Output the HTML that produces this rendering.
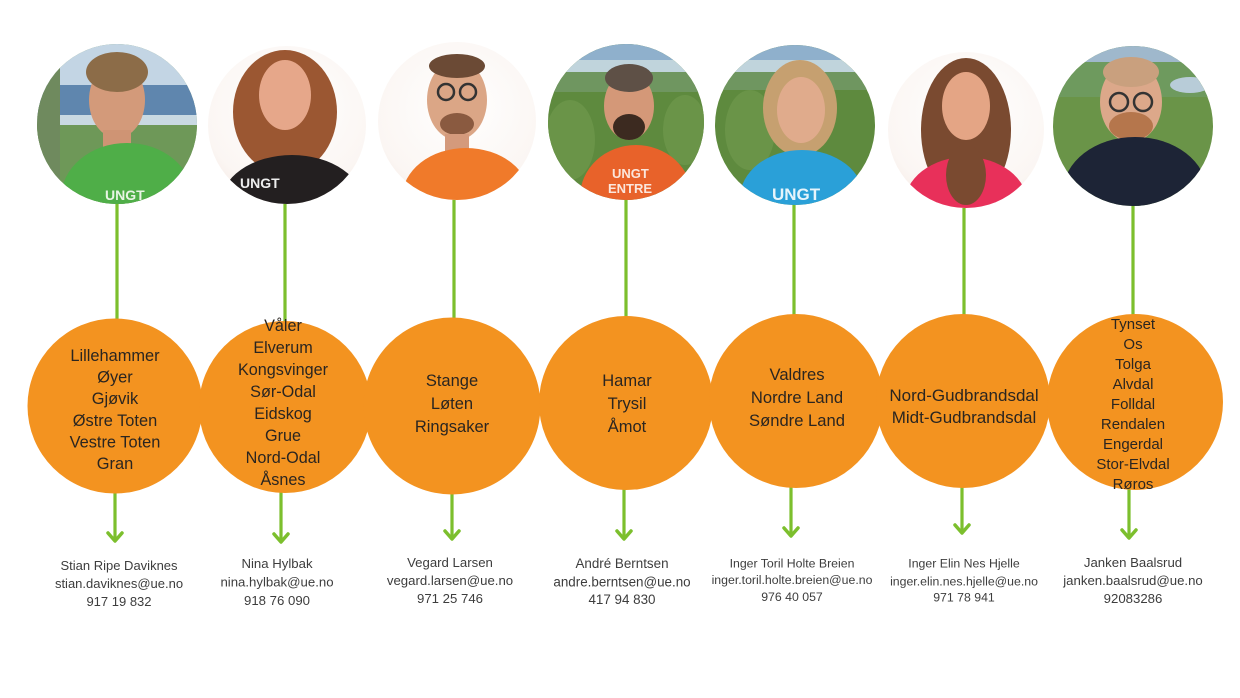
<!DOCTYPE html>
<html><head><meta charset="utf-8"><style>
html,body{margin:0;padding:0;background:#fff;}
svg{display:block;}
.o{font-family:"Liberation Sans",Arial,sans-serif;fill:#2a2520;text-anchor:middle;}
.n{font-family:"Liberation Sans",Arial,sans-serif;fill:#3d3d3d;text-anchor:middle;}
</style></head><body>
<svg width="1240" height="698" viewBox="0 0 1240 698" xmlns="http://www.w3.org/2000/svg">
<defs>
<clipPath id="c1"><circle cx="117" cy="124" r="80"/></clipPath>
<clipPath id="c2"><circle cx="287" cy="125" r="79"/></clipPath>
<clipPath id="c3"><circle cx="457" cy="121" r="79"/></clipPath>
<clipPath id="c4"><circle cx="626" cy="122" r="78"/></clipPath>
<clipPath id="c5"><circle cx="795" cy="125" r="80"/></clipPath>
<clipPath id="c6"><circle cx="966" cy="130" r="78"/></clipPath>
<clipPath id="c7"><circle cx="1133" cy="126" r="80"/></clipPath>
<radialGradient id="wbg" cx="0.5" cy="0.4" r="0.6"><stop offset="0" stop-color="#ffffff"/><stop offset="0.8" stop-color="#fbf6f3"/><stop offset="1" stop-color="#f6ece7"/></radialGradient>
</defs>

<!-- connector lines top -->
<g stroke="#7cbf2d" stroke-width="3.2" fill="none">
<line x1="117" y1="200" x2="117" y2="322"/>
<line x1="285" y1="200" x2="285" y2="325"/>
<line x1="454" y1="198" x2="454" y2="320"/>
<line x1="626" y1="198" x2="626" y2="318"/>
<line x1="794" y1="200" x2="794" y2="316"/>
<line x1="964" y1="205" x2="964" y2="316"/>
<line x1="1133" y1="203" x2="1133" y2="315"/>
<!-- down arrows -->
<line x1="115" y1="490" x2="115" y2="540"/>
<line x1="281" y1="490" x2="281" y2="541"/>
<line x1="452" y1="492" x2="452" y2="538"/>
<line x1="624" y1="488" x2="624" y2="538"/>
<line x1="791" y1="486" x2="791" y2="535"/>
<line x1="962" y1="486" x2="962" y2="532"/>
<line x1="1129" y1="488" x2="1129" y2="537"/>
</g>
<g stroke="#7cbf2d" stroke-width="3.5" fill="none" stroke-linecap="round" stroke-linejoin="round">
<polyline points="108,533 115,541 122,533"/>
<polyline points="274,534 281,542 288,534"/>
<polyline points="445,531 452,539 459,531"/>
<polyline points="617,531 624,539 631,531"/>
<polyline points="784,528 791,536 798,528"/>
<polyline points="955,525 962,533 969,525"/>
<polyline points="1122,530 1129,538 1136,530"/>
</g>

<!-- photo 1 -->
<g clip-path="url(#c1)">
<rect x="30" y="40" width="180" height="170" fill="#7d9f6a"/>
<rect x="30" y="40" width="180" height="45" fill="#c3d5e4"/>
<rect x="30" y="85" width="180" height="30" fill="#5f86ae"/>
<rect x="30" y="115" width="180" height="10" fill="#c9d9e2"/>
<rect x="30" y="125" width="180" height="90" fill="#6e9858"/>
<rect x="30" y="40" width="30" height="170" fill="#6f8a5e"/>
<ellipse cx="117" cy="100" rx="28" ry="38" fill="#d39a7a"/>
<ellipse cx="117" cy="72" rx="31" ry="20" fill="#8c6c48"/>
<rect x="103" y="130" width="28" height="20" fill="#cf9474"/>
<ellipse cx="127" cy="198" rx="66" ry="55" fill="#4fae48"/>
<text x="105" y="200" font-family="Liberation Sans,sans-serif" font-weight="bold" font-size="14" fill="#e8f4e4">UNGT</text>
</g>
<!-- photo 2 -->
<g clip-path="url(#c2)">
<rect x="200" y="40" width="180" height="170" fill="url(#wbg)"/>
<ellipse cx="285" cy="112" rx="52" ry="62" fill="#9b5732"/>
<ellipse cx="285" cy="95" rx="26" ry="35" fill="#e6a78a"/>
<ellipse cx="292" cy="205" rx="72" ry="50" fill="#231f20"/>
<text x="240" y="188" font-family="Liberation Sans,sans-serif" font-weight="bold" font-size="14" fill="#eee">UNGT</text>
</g>
<!-- photo 3 -->
<g clip-path="url(#c3)">
<rect x="370" y="40" width="180" height="170" fill="url(#wbg)"/>
<ellipse cx="457" cy="100" rx="30" ry="40" fill="#dba686"/>
<ellipse cx="457" cy="66" rx="28" ry="12" fill="#6b4a35"/>
<circle cx="446" cy="92" r="8" fill="none" stroke="#333" stroke-width="2.5"/>
<circle cx="468" cy="92" r="8" fill="none" stroke="#333" stroke-width="2.5"/>
<ellipse cx="457" cy="124" rx="17" ry="11" fill="#8a5a40"/>
<rect x="445" y="134" width="24" height="18" fill="#d49a7c"/>
<ellipse cx="466" cy="198" rx="64" ry="50" fill="#f07a2a"/>
</g>
<!-- photo 4 -->
<g clip-path="url(#c4)">
<rect x="540" y="40" width="180" height="170" fill="#5e8a3e"/>
<rect x="540" y="40" width="180" height="20" fill="#8fb0cc"/>
<rect x="540" y="60" width="180" height="12" fill="#c0d4dc"/>
<rect x="540" y="72" width="180" height="20" fill="#6f9660"/>
<ellipse cx="570" cy="140" rx="25" ry="40" fill="#6a9448"/>
<ellipse cx="685" cy="130" rx="22" ry="35" fill="#6a9448"/>
<ellipse cx="629" cy="106" rx="25" ry="34" fill="#d49878"/>
<ellipse cx="629" cy="78" rx="24" ry="14" fill="#5e5046"/>
<ellipse cx="629" cy="127" rx="16" ry="13" fill="#3c2a20"/>
<ellipse cx="636" cy="197" rx="56" ry="52" fill="#e8622a"/>
<text x="612" y="178" font-family="Liberation Sans,sans-serif" font-weight="bold" font-size="13" fill="#fbe6dc">UNGT</text>
<text x="608" y="193" font-family="Liberation Sans,sans-serif" font-weight="bold" font-size="13" fill="#fbe6dc">ENTRE</text>
</g>
<!-- photo 5 -->
<g clip-path="url(#c5)">
<rect x="710" y="40" width="180" height="170" fill="#5e8a3e"/>
<rect x="710" y="40" width="180" height="20" fill="#8fb0cc"/>
<rect x="710" y="60" width="180" height="12" fill="#c0d4dc"/>
<rect x="710" y="72" width="180" height="18" fill="#6f9660"/>
<ellipse cx="750" cy="130" rx="25" ry="40" fill="#6a9448"/>
<ellipse cx="800" cy="108" rx="37" ry="48" fill="#c6a070"/>
<ellipse cx="801" cy="110" rx="24" ry="33" fill="#e0ab8c"/>
<ellipse cx="802" cy="198" rx="62" ry="48" fill="#2aa0d8"/>
<text x="772" y="200" font-family="Liberation Sans,sans-serif" font-weight="bold" font-size="17" fill="#e6f4fb">UNGT</text>
</g>
<!-- photo 6 -->
<g clip-path="url(#c6)">
<rect x="880" y="45" width="180" height="170" fill="url(#wbg)"/>
<ellipse cx="966" cy="130" rx="45" ry="72" fill="#7a4a30"/>
<ellipse cx="966" cy="106" rx="24" ry="34" fill="#e4a585"/>
<ellipse cx="966" cy="205" rx="62" ry="48" fill="#e8305a"/>
<ellipse cx="966" cy="175" rx="20" ry="30" fill="#7a4a30"/>
</g>
<!-- photo 7 -->
<g clip-path="url(#c7)">
<rect x="1045" y="40" width="180" height="170" fill="#6a9448"/>
<rect x="1045" y="40" width="180" height="22" fill="#9fb8cc"/>
<rect x="1045" y="62" width="180" height="35" fill="#6e9a5e"/>
<ellipse cx="1190" cy="85" rx="20" ry="8" fill="#b8ccd8"/>
<ellipse cx="1131" cy="102" rx="31" ry="40" fill="#dca88a"/>
<ellipse cx="1131" cy="72" rx="28" ry="15" fill="#c9a07e"/>
<circle cx="1119" cy="102" r="9" fill="none" stroke="#333" stroke-width="2.5"/>
<circle cx="1143" cy="102" r="9" fill="none" stroke="#333" stroke-width="2.5"/>
<ellipse cx="1131" cy="126" rx="22" ry="14" fill="#b5764c"/>
<ellipse cx="1135" cy="192" rx="72" ry="55" fill="#1d2436"/>
</g>

<!-- orange circles -->
<g fill="#f39320">
<circle cx="115" cy="406" r="87.5"/>
<circle cx="285" cy="407" r="86"/>
<circle cx="452" cy="406" r="88.5"/>
<circle cx="626" cy="403" r="87"/>
<circle cx="796" cy="401" r="87"/>
<circle cx="963" cy="401" r="87"/>
<circle cx="1135" cy="402" r="88"/>
</g>

<!-- circle text -->
<g class="o" font-size="16.4">
<text x="115" y="361">Lillehammer</text>
<text x="115" y="382.5">Øyer</text>
<text x="115" y="404">Gjøvik</text>
<text x="115" y="426">Østre Toten</text>
<text x="115" y="447.5">Vestre Toten</text>
<text x="115" y="469">Gran</text>
</g>
<g class="o" font-size="16.2">
<text x="283" y="331">Våler</text>
<text x="283" y="353">Elverum</text>
<text x="283" y="375">Kongsvinger</text>
<text x="283" y="397">Sør-Odal</text>
<text x="283" y="419">Eidskog</text>
<text x="283" y="441">Grue</text>
<text x="283" y="463">Nord-Odal</text>
<text x="283" y="485">Åsnes</text>
</g>
<g class="o" font-size="16.5">
<text x="452" y="386">Stange</text>
<text x="452" y="409">Løten</text>
<text x="452" y="432">Ringsaker</text>
</g>
<g class="o" font-size="16.5">
<text x="627" y="386">Hamar</text>
<text x="627" y="409">Trysil</text>
<text x="627" y="432">Åmot</text>
</g>
<g class="o" font-size="16.6">
<text x="797" y="380">Valdres</text>
<text x="797" y="403">Nordre Land</text>
<text x="797" y="426">Søndre Land</text>
</g>
<g class="o" font-size="17">
<text x="964" y="401">Nord-Gudbrandsdal</text>
<text x="964" y="423">Midt-Gudbrandsdal</text>
</g>
<g class="o" font-size="15">
<text x="1133" y="329">Tynset</text>
<text x="1133" y="349">Os</text>
<text x="1133" y="369">Tolga</text>
<text x="1133" y="389">Alvdal</text>
<text x="1133" y="409">Folldal</text>
<text x="1133" y="429">Rendalen</text>
<text x="1133" y="449">Engerdal</text>
<text x="1133" y="469">Stor-Elvdal</text>
<text x="1133" y="489">Røros</text>
</g>

<!-- contact text -->
<g class="n" font-size="13">
<text x="119" y="570">Stian Ripe Daviknes</text>
<text x="119" y="588">stian.daviknes@ue.no</text>
<text x="119" y="606">917 19 832</text>
</g>
<g class="n" font-size="13.2">
<text x="277" y="568">Nina Hylbak</text>
<text x="277" y="586.5">nina.hylbak@ue.no</text>
<text x="277" y="605">918 76 090</text>
</g>
<g class="n" font-size="13.2">
<text x="450" y="567">Vegard Larsen</text>
<text x="450" y="585">vegard.larsen@ue.no</text>
<text x="450" y="603">971 25 746</text>
</g>
<g class="n" font-size="13.4">
<text x="622" y="568">André Berntsen</text>
<text x="622" y="586.5">andre.berntsen@ue.no</text>
<text x="622" y="604">417 94 830</text>
</g>
<g class="n" font-size="12.3">
<text x="792" y="567.5">Inger Toril Holte Breien</text>
<text x="792" y="584">inger.toril.holte.breien@ue.no</text>
<text x="792" y="601">976 40 057</text>
</g>
<g class="n" font-size="12.3">
<text x="964" y="567.5">Inger Elin Nes Hjelle</text>
<text x="964" y="585.5">inger.elin.nes.hjelle@ue.no</text>
<text x="964" y="601.5">971 78 941</text>
</g>
<g class="n" font-size="13.2">
<text x="1133" y="567">Janken Baalsrud</text>
<text x="1133" y="585">janken.baalsrud@ue.no</text>
<text x="1133" y="603">92083286</text>
</g>
</svg>
</body></html>
